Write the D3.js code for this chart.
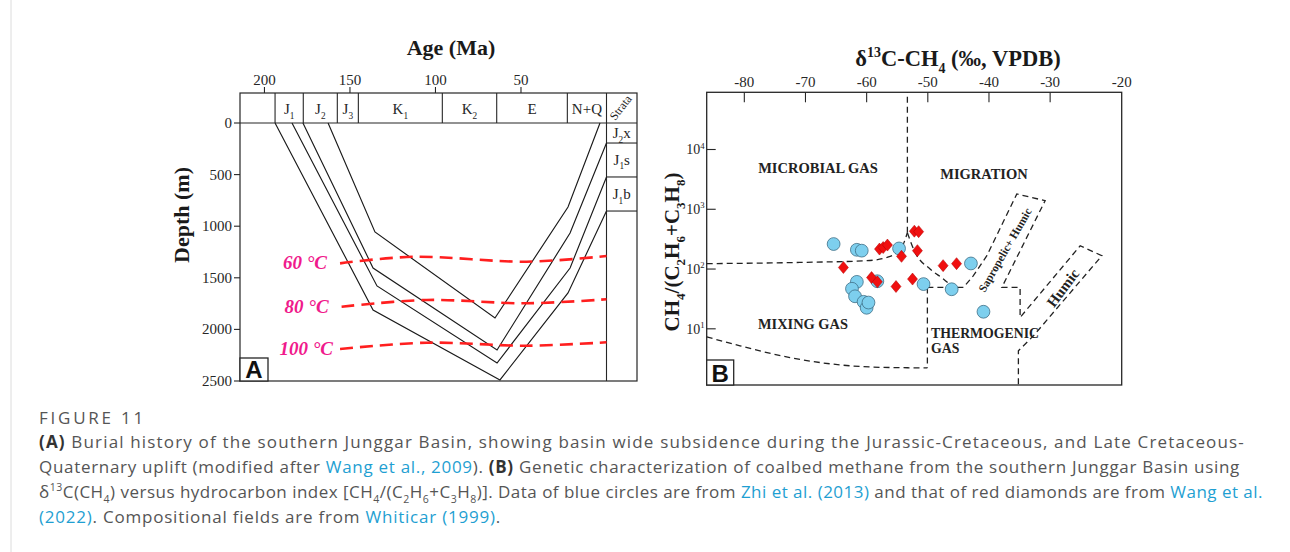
<!DOCTYPE html>
<html>
<head>
<meta charset="utf-8">
<script src="https://cdn.jsdelivr.net/npm/d3@7"></script>
<style>
body { margin: 0; background: #fff; }
svg text { font-family: "Liberation Serif", "DejaVu Serif", serif; }
</style>
</head>
<body>
<svg width="1290" height="552"></svg>
<script>
// ---------- panel A: burial history ----------
var ageTicks = [200, 150, 100, 50];
var depthTicks = [0, 500, 1000, 1500, 2000, 2500];
var periods = ["", "J_1", "J_2", "J_3", "K_1", "K_2", "E", "N+Q"];
var periodBounds = [214.3, 193.8, 177.3, 157.4, 145.1, 96.0, 64.2, 22.9, 0];
var strataNames = ["J_2x", "J_1s", "J_1b"];
var strataBase = [0, 194, 523, 853];

// [age Ma, depth m]
var curveJ1b = [[193.8, 0], [136.5, 1812], [62.3, 2490], [22.5, 1647], [0, 853]];
var curveJ1s = [[183.9, 0], [134.2, 1579], [64.0, 2326], [21.3, 1405], [0, 523]];
var curveJ2x = [[177.5, 0], [136.5, 1405], [64.0, 2200], [21.3, 1066], [0, 194]];
var curveTop = [[162.8, 0], [135.4, 1056], [65.2, 1890], [22.5, 814], [3.8, 0]];

var iso60 = [[155.8, 1360], [113.2, 1296], [46.7, 1344], [0, 1289]];
var iso80 = [[154.9, 1780], [105.1, 1715], [46.7, 1747], [0, 1708]];
var iso100 = [[155.8, 2190], [105.1, 2129], [46.7, 2158], [0, 2125]];
var isoLabels = ["60 °C", "80 °C", "100 °C"];

// ---------- panel B: genetic diagram ----------
var d13Ticks = [-80, -70, -60, -50, -40, -30];
var indexTicks = [10, 100, 1000, 10000];

var blueD13C = [-65.4, -61.6, -60.8, -54.7, -61.6, -62.4, -61.9, -60.5, -60.0, -59.7, -58.25, -50.7, -46.1, -42.95, -40.9];
var blueIndex = [262, 210, 203, 221, 61, 46.8, 35, 28.3, 22.5, 27.5, 62.5, 56, 45.9, 124, 19.3];
var redD13C = [-63.8, -57.9, -57.3, -56.6, -54.3, -52.2, -51.5, -51.7, -59.2, -58.25, -55.2, -52.5, -47.5, -45.3];
var redIndex = [106, 216, 229, 252, 163, 430, 422, 203, 72, 61, 51, 68, 114, 123];

// field boundaries [d13C, index]
var bndMicrobial = [[-86.15, 123], [-70.9, 129], [-59.98, 138], [-56.71, 156], [-55.07, 190], [-54.0, 262], [-53.34, 405]];
var bndVertical = [[-53.34, 405], [-53.34, 90570]];
var bndMigration = [[-53.34, 405], [-52.08, 190], [-49.63, 100], [-47.45, 68], [-46.08, 51.5]];
var bndThermo = [[-50.07, 49.2], [-44.18, 49.2], [-42.55, 77.3], [-40.35, 167], [-35.45, 1803], [-30.82, 1393],
  [-37.90, 49.2], [-34.91, 49.2], [-34.91, 15.5], [-25.09, 245], [-21.54, 167], [-32.73, 7.64], [-35.19, 4.28], [-35.19, 1.148]];
var bndThermoLeft = [[-50.07, 49.2], [-50.07, 2.22]];
var bndMixing = [[-86.15, 7.34], [-80.7, 5.19], [-72.53, 3.30], [-64.35, 2.49], [-56.17, 2.25], [-50.07, 2.22]];

var svg = d3.select("svg");
var ink = "#262626";

// text with _sub and ^sup parts
function rich(t, str, size, attrs) {
  var node = t.node();
  if (node.__shift === undefined) node.__shift = 0;
  var re = /([_^])(\{[^}]*\}|.)/g, last = 0, m, toks = [];
  while ((m = re.exec(str))) {
    if (m.index > last) toks.push({ t: str.slice(last, m.index), k: "n" });
    var v = m[2];
    if (v[0] === "{") v = v.slice(1, -1);
    toks.push({ t: v, k: m[1] === "_" ? "sub" : "sup" });
    last = re.lastIndex;
  }
  if (last < str.length) toks.push({ t: str.slice(last), k: "n" });
  toks.forEach(function(tok) {
    var off = tok.k === "sub" ? size * 0.3 : tok.k === "sup" ? -size * 0.42 : 0;
    var ts = t.append("tspan").attr("dy", off - node.__shift).text(tok.t);
    if (tok.k !== "n") ts.attr("font-size", size * 0.62);
    node.__shift = off;
    if (attrs) for (var k in attrs) ts.attr(k, attrs[k]);
  });
  return t;
}

// ================= Panel A =================
var gA = svg.append("g");
var ageX = d3.scaleLinear().domain([214.3, 0]).range([240, 606.5]);
var depY = d3.scaleLinear().domain([0, 2500]).range([123, 381]);
var headTop = 93, strataRight = 637;

gA.append("text").attr("x", 451).attr("y", 55).attr("text-anchor", "middle")
  .attr("font-size", 22).attr("font-weight", "bold").attr("fill", "#1a1a1a").text("Age (Ma)");
gA.append("text").attr("transform", "translate(189,215) rotate(-90)").attr("text-anchor", "middle")
  .attr("font-size", 22).attr("font-weight", "bold").attr("fill", "#1a1a1a").text("Depth (m)");

// frame
gA.append("rect").attr("x", ageX(214.3)).attr("y", headTop)
  .attr("width", strataRight - ageX(214.3)).attr("height", depY(2500) - headTop)
  .attr("fill", "none").attr("stroke", ink).attr("stroke-width", 1.2);
gA.append("line").attr("x1", ageX(214.3)).attr("x2", strataRight).attr("y1", depY(0)).attr("y2", depY(0))
  .attr("stroke", ink).attr("stroke-width", 1.1);

periodBounds.slice(1).forEach(function(b) {
  gA.append("line").attr("x1", ageX(b)).attr("x2", ageX(b)).attr("y1", headTop)
    .attr("y2", b === 0 ? depY(2500) : depY(0)).attr("stroke", ink).attr("stroke-width", 1.1);
});
periods.forEach(function(p, i) {
  if (!p) return;
  var cx = (ageX(periodBounds[i]) + ageX(periodBounds[i + 1])) / 2;
  rich(gA.append("text").attr("x", cx).attr("y", 114).attr("text-anchor", "middle")
    .attr("font-size", 15).attr("fill", ink), p, 15);
});

// strata column
var stCx = (ageX(0) + strataRight) / 2;
strataBase.slice(1).forEach(function(d) {
  gA.append("line").attr("x1", ageX(0)).attr("x2", strataRight).attr("y1", depY(d)).attr("y2", depY(d))
    .attr("stroke", ink).attr("stroke-width", 1.1);
});
strataNames.forEach(function(n, i) {
  var cy = (depY(strataBase[i]) + depY(strataBase[i + 1])) / 2;
  rich(gA.append("text").attr("x", stCx).attr("y", cy + 5).attr("text-anchor", "middle")
    .attr("font-size", 15).attr("fill", ink), n, 15);
});
gA.append("text").attr("transform", "translate(" + (stCx + 2) + "," + (headTop + 17) + ") rotate(-52)")
  .attr("text-anchor", "middle").attr("font-size", 12).attr("fill", ink).text("Strata");

// axes ticks
ageTicks.forEach(function(v) {
  gA.append("line").attr("x1", ageX(v)).attr("x2", ageX(v)).attr("y1", headTop - 6).attr("y2", headTop)
    .attr("stroke", ink).attr("stroke-width", 1.1);
  gA.append("text").attr("x", ageX(v)).attr("y", headTop - 8).attr("text-anchor", "middle")
    .attr("font-size", 15).attr("fill", ink).text(v);
});
depthTicks.forEach(function(v) {
  gA.append("line").attr("x1", ageX(214.3) - 6).attr("x2", ageX(214.3)).attr("y1", depY(v)).attr("y2", depY(v))
    .attr("stroke", ink).attr("stroke-width", 1.1);
  gA.append("text").attr("x", ageX(214.3) - 8).attr("y", depY(v) + 5).attr("text-anchor", "end")
    .attr("font-size", 15).attr("fill", ink).text(v);
});

// burial curves
var lineA = d3.line().x(function(d) { return ageX(d[0]); }).y(function(d) { return depY(d[1]); });
[curveJ1b, curveJ1s, curveJ2x, curveTop].forEach(function(c) {
  gA.append("path").attr("d", lineA(c)).attr("fill", "none").attr("stroke", "#1a1a1a").attr("stroke-width", 1.15);
});

// isotherms
var lineIso = d3.line().curve(d3.curveCatmullRom)
  .x(function(d) { return ageX(d[0]); }).y(function(d) { return depY(d[1]); });
var labelGap = [13, 13, 7];
[iso60, iso80, iso100].forEach(function(c, i) {
  gA.append("path").attr("d", lineIso(c)).attr("fill", "none").attr("stroke", "#ff1f1f")
    .attr("stroke-width", 2.6).attr("stroke-dasharray", "13,7");
  gA.append("text").attr("x", ageX(c[0][0]) - labelGap[i]).attr("y", depY(c[0][1]) + 6)
    .attr("text-anchor", "end").attr("font-size", 19).attr("font-weight", "bold").attr("font-style", "italic")
    .attr("fill", "#f01a8c").text(isoLabels[i]);
});

gA.append("rect").attr("x", ageX(214.3)).attr("y", depY(2500) - 23).attr("width", 28).attr("height", 23)
  .attr("fill", "#fff").attr("stroke", ink).attr("stroke-width", 1.3);
gA.append("text").attr("x", ageX(214.3) + 14).attr("y", depY(2500) - 3).attr("text-anchor", "middle")
  .style("font-family", "'Liberation Sans', Arial, sans-serif").attr("font-size", 24).attr("font-weight", "bold")
  .attr("fill", "#111").text("A");

// ================= Panel B =================
var gB = svg.append("g");
var xB = d3.scaleLinear().domain([-86.15, -18.3]).range([706.7, 1121.7]);
var yB = d3.scaleLog().domain([1.148, 90570]).range([385, 92.3]);
var bx0 = xB.range()[0], bx1 = xB.range()[1], by0 = yB.range()[1], by1 = yB.range()[0];

rich(gB.append("text").attr("x", 958).attr("y", 66).attr("text-anchor", "middle")
  .attr("font-size", 22.5).attr("font-weight", "bold").attr("fill", "#1a1a1a"), "δ^{13}C-CH_4 (‰, VPDB)", 22.5);
rich(gB.append("text").attr("transform", "translate(679,252) rotate(-90)").attr("text-anchor", "middle")
  .attr("font-size", 21).attr("font-weight", "bold").attr("fill", "#1a1a1a"), "CH_4/(C_2H_6+C_3H_8)", 21);

gB.append("rect").attr("x", bx0).attr("y", by0).attr("width", bx1 - bx0).attr("height", by1 - by0)
  .attr("fill", "none").attr("stroke", ink).attr("stroke-width", 1.3);

d13Ticks.forEach(function(v) {
  gB.append("line").attr("x1", xB(v)).attr("x2", xB(v)).attr("y1", by0).attr("y2", by0 + 10)
    .attr("stroke", ink).attr("stroke-width", 1.1);
  gB.append("text").attr("x", xB(v)).attr("y", by0 - 5).attr("text-anchor", "middle")
    .attr("font-size", 15).attr("fill", ink).text(v);
});
gB.append("text").attr("x", bx1).attr("y", by0 - 5).attr("text-anchor", "middle")
  .attr("font-size", 15).attr("fill", ink).text(-20);

indexTicks.forEach(function(v) {
  gB.append("line").attr("x1", bx0).attr("x2", bx0 + 9).attr("y1", yB(v)).attr("y2", yB(v))
    .attr("stroke", ink).attr("stroke-width", 1.1);
  rich(gB.append("text").attr("x", bx0 - 2).attr("y", yB(v) + 5).attr("text-anchor", "end")
    .attr("font-size", 14).attr("fill", ink), "10^" + Math.round(Math.log10(v)), 14);
});

// field boundaries
function lineB(curve) {
  return d3.line().curve(curve).x(function(d) { return xB(d[0]); }).y(function(d) { return yB(d[1]); });
}
function dashB(data, curve) {
  gB.append("path").attr("d", lineB(curve)(data)).attr("fill", "none").attr("stroke", "#222")
    .attr("stroke-width", 1.3).attr("stroke-dasharray", "6,4");
}
dashB(bndMicrobial, d3.curveMonotoneX);
dashB(bndVertical, d3.curveLinear);
dashB(bndMigration, d3.curveMonotoneX);
dashB(bndThermo, d3.curveLinear);
dashB(bndThermoLeft, d3.curveLinear);
dashB(bndMixing, d3.curveMonotoneX);

// field labels
function fieldLabel(x, y, txt, size, anchor) {
  gB.append("text").attr("x", x).attr("y", y).attr("text-anchor", anchor || "middle")
    .attr("font-size", size).attr("font-weight", "bold").attr("fill", "#222").text(txt);
}
fieldLabel(818, 173, "MICROBIAL GAS", 14.5);
fieldLabel(984, 179, "MIGRATION", 14.5);
fieldLabel(803, 329, "MIXING GAS", 14.4);
fieldLabel(931, 338, "THERMOGENIC", 13.8, "start");
fieldLabel(931, 353, "GAS", 13.8, "start");
gB.append("text").attr("transform", "translate(1005,250) rotate(-60)").attr("text-anchor", "middle")
  .attr("dy", 4).attr("font-size", 11.5).attr("font-weight", "bold").attr("fill", "#222").text("Sapropelic+ Humic");
gB.append("text").attr("transform", "translate(1063,288) rotate(-53)").attr("text-anchor", "middle")
  .attr("dy", 5).attr("font-size", 15).attr("font-weight", "bold").attr("fill", "#222").text("Humic");

// data points
blueD13C.forEach(function(v, i) {
  gB.append("circle").attr("cx", xB(v)).attr("cy", yB(blueIndex[i])).attr("r", 6.4)
    .attr("fill", "#7dcfee").attr("stroke", "#3f6f86").attr("stroke-width", 0.8);
});
redD13C.forEach(function(v, i) {
  var x = xB(v), y = yB(redIndex[i]);
  gB.append("path").attr("d", "M" + x + "," + (y - 6) + "L" + (x + 5) + "," + y + "L" + x + "," + (y + 6) + "L" + (x - 5) + "," + y + "Z")
    .attr("fill", "#f01010").attr("stroke", "#b00000").attr("stroke-width", 0.5);
});

gB.append("rect").attr("x", bx0).attr("y", by1 - 25).attr("width", 27).attr("height", 25)
  .attr("fill", "#fff").attr("stroke", ink).attr("stroke-width", 1.3);
gB.append("text").attr("x", bx0 + 13.5).attr("y", by1 - 3).attr("text-anchor", "middle")
  .style("font-family", "'Liberation Sans', Arial, sans-serif").attr("font-size", 24).attr("font-weight", "bold")
  .attr("fill", "#111").text("B");

// ================= caption =================
svg.append("line").attr("x1", 11).attr("x2", 11).attr("y1", 0).attr("y2", 552)
  .attr("stroke", "#dcdcdc").attr("stroke-width", 1);

var capFont = "'Open Sans', 'Noto Sans', sans-serif";
var grey = "#555", link = "#1f9fd2";
var capSize = 17;
var fig = svg.append("text").attr("x", 39).attr("y", 424).style("font-family", capFont)
  .attr("font-size", capSize).attr("fill", "#555").text("FIGURE 11");
fig.attr("letter-spacing", (146 - 39 - fig.node().getComputedTextLength()) / 9);

var capLines = [
  { y: 448, end: 1245, segs: [["(A)", "b"], [" Burial history of the southern Junggar Basin, showing basin wide subsidence during the Jurassic-Cretaceous, and Late Cretaceous-", ""]] },
  { y: 473, end: 1240, segs: [["Quaternary uplift (modified after ", ""], ["Wang et al., 2009", "l"], ["). ", ""], ["(B)", "b"], [" Genetic characterization of coalbed methane from the southern Junggar Basin using", ""]] },
  { y: 498, end: 1263, segs: [["δ^{13}C(CH_4) versus hydrocarbon index [CH_4/(C_2H_6+C_3H_8)]. Data of blue circles are from ", ""], ["Zhi et al. (2013)", "l"], [" and that of red diamonds are from ", ""], ["Wang et al.", "l"]] },
  { y: 523, end: null, segs: [["(2022)", "l"], [". Compositional fields are from ", ""], ["Whiticar (1999)", "l"], [".", ""]] }
];
var spacings = [];
capLines.forEach(function(L) {
  var t = svg.append("text").attr("x", 39).attr("y", L.y).style("font-family", capFont)
    .attr("font-size", capSize).attr("fill", grey);
  L.segs.forEach(function(s) {
    var a = { fill: s[1] === "l" ? link : s[1] === "b" ? "#333" : grey };
    if (s[1] === "b") a["font-weight"] = "bold";
    rich(t, s[0], capSize, a);
  });
  // spread each full line to the width it has in the figure
  var ls;
  if (L.end) {
    ls = (L.end - 39 - t.node().getComputedTextLength()) / t.text().length;
    spacings.push(ls);
  } else {
    ls = d3.mean(spacings);
  }
  t.attr("letter-spacing", ls);
});
</script>
</body>
</html>
